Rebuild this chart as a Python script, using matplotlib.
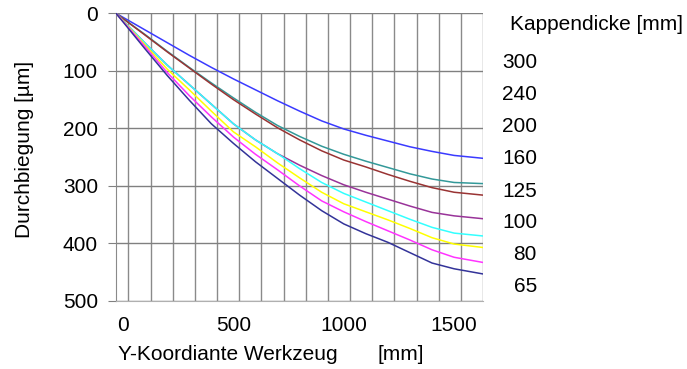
import numpy as np
import matplotlib
matplotlib.use("Agg")
from matplotlib import pyplot as plt

plt.rcParams['font.family'] = ['Liberation Sans', 'DejaVu Sans']

# Y-Koordinate [mm] und Durchbiegung [µm] je Kappendicke
y_koord = [-32, 100, 200, 300, 400, 500, 600, 700, 800, 900, 1000, 1100, 1200, 1300, 1400, 1500, 1631]

d_300 = [0, 29, 51, 73, 94, 114, 133, 152, 170, 187, 201, 212, 222, 232, 240, 247, 252]
d_240 = [0, 37, 66, 94, 121, 147, 172, 195, 214, 231, 245, 257, 268, 279, 288, 294, 296]
d_200 = [0, 38, 67, 95, 123, 150, 175, 199, 220, 239, 255, 267, 280, 292, 303, 311, 316]
d_160 = [0, 52, 90, 124, 158, 192, 220, 244, 264, 282, 298, 311, 323, 335, 346, 352, 357]
d_125 = [0, 52, 90, 124, 158, 192, 220, 244, 270, 294, 313, 328, 343, 358, 372, 382, 387]
d_100 = [0, 55, 97, 133, 170, 206, 232, 260, 286, 311, 331, 345, 359, 374, 390, 401, 407]
d_80 = [0, 58, 103, 143, 180, 215, 245, 272, 300, 326, 345, 362, 378, 394, 411, 424, 433]
d_65 = [0, 62, 108, 151, 192, 226, 258, 287, 316, 343, 366, 383, 398, 416, 434, 444, 453]

kappen = ['300', '240', '200', '160', '125', '100', '80', '65']
reihen = [d_300, d_240, d_200, d_160, d_125, d_100, d_80, d_65]
farben = ['#3a3aff', '#339999', '#993333', '#993399', '#33ffff', '#ffff00', '#ff33ff', '#333399']

W, H = 687, 369
fig = plt.figure(figsize=(W / 100, H / 100), dpi=100)
ax = fig.add_axes([116 / W, 1 - 301 / H, (483 - 116) / W, (301 - 13.3) / H])

for werte, farbe in zip(reihen, farben):
    ax.plot(y_koord, werte, color=farbe, lw=1.1, zorder=3)

ax.set_xlim(-32, 1631)
ax.set_ylim(500, 0)

ax.set_yticks(np.arange(0, 501, 100))
ax.set_xticks([0, 500, 1000, 1500])
ax.set_xticks(np.linspace(24, 1631, 17), minor=True)

ax.grid(True, axis='y', which='major', color='#808080', lw=1.0)
ax.grid(True, axis='x', which='minor', color='#8a8a8a', lw=1.0)
ax.grid(False, axis='x', which='major')

for s in ['top', 'right']:
    ax.spines[s].set_visible(False)
ax.spines['left'].set_color('#8a8a8a')
ax.spines['bottom'].set_color('#b0b0b0')

ax.tick_params(axis='y', which='major', length=6, color='#808080', pad=7, labelsize=15)
ax.tick_params(axis='x', which='both', length=0, pad=11, labelsize=15)

fig.text(25 / W, 1 - 149 / H, 'Durchbiegung [µm]', rotation=90, ha='center', va='center', fontsize=15)
fig.text(118 / W, 1 - 355 / H, 'Y-Koordiante Werkzeug', ha='left', va='center', fontsize=15)
fig.text(378 / W, 1 - 355 / H, '[mm]', ha='left', va='center', fontsize=15)

fig.text(510 / W, 1 - 25 / H, 'Kappendicke [mm]', ha='left', va='center', fontsize=15)
for i, k in enumerate(kappen):
    fig.text(537 / W, 1 - (63 + 32 * i) / H, k, ha='right', va='center', fontsize=15)

fig.savefig('out.png', dpi=100)
